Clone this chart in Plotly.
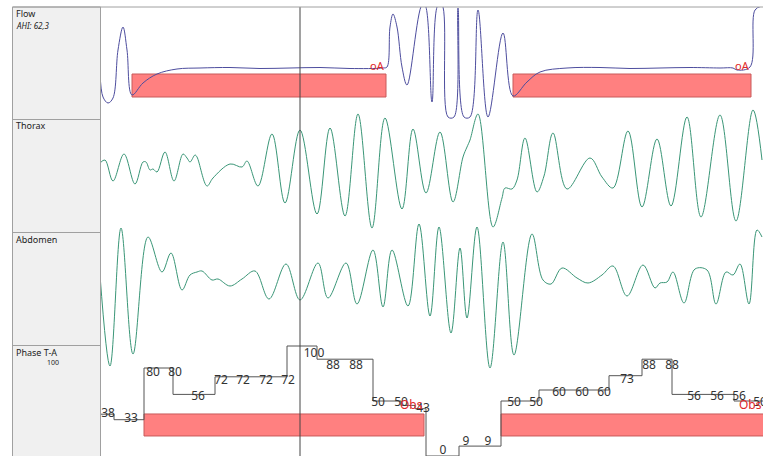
import plotly.graph_objects as go

# ---------------- data (time in seconds) ----------------
flow_t = [0, 0.3, 0.8, 1.3, 1.8, 2.3, 2.7, 3.2, 4.3, 5.7, 7.7, 10.0, 13.0, 16.0, 19.0, 22.0,
          25.0, 28.3, 28.7, 29.0, 29.3, 29.7, 30.2, 30.7, 32.2, 32.5, 33.2, 33.8, 34.2, 34.8,
          35.4, 35.8, 36.4, 37.0, 37.8, 38.8, 40.3, 41.3, 42.7, 44.0, 46.7, 50.0, 53.0, 56.0,
          59.0, 62.0, 63.3, 63.7, 65.0, 65.5, 66.2]
flow_v = [-4, -29, -35, -30, 18, 41, 18, -27, -15, -6, -1, 0, 0.5, -0.5, 0, 0.5,
          -0.5, 0, 1, 41, 54, 41, 1, -17, 63, 63, -34, 63, 63, -49,
          -49, 60, -49, -49, 58, -49, 35, -28, -14, -4, 0, 0.5, -0.5, 0,
          0.5, 0, 0, -2, 1, 58, 62]

thorax_t = [0, 0.5, 1.3, 2.4, 3.5, 4.3, 4.6, 5.0, 5.3, 5.7, 6.5, 7.4, 8.3, 8.7, 9.0, 9.5, 9.7,
            10.7, 11.3, 13.0, 14.2, 14.7, 15.8, 17.2, 18.5, 20.0, 21.7, 23.0, 24.5, 25.8, 27.2,
            28.5, 30.2, 31.3, 32.6, 34.0, 35.3, 36.3, 36.7, 37.0, 37.8, 39.3, 40.2, 40.5, 41.2,
            41.7, 42.5, 43.7, 44.4, 45.3, 46.7, 49.0, 50.2, 51.3, 52.8, 54.2, 55.7, 57.1, 58.7,
            60.1, 62.0, 63.6, 65.3, 66.2]
thorax_v = [9, 12, -9, 18, -12, 10, 10, 2, 3, 0, 20, -9, 18, 14, 10, 17, 15,
            -14, -6, 8, 5, 11, -14, 38, -31, 42, -42, 44, -44, 58, -56,
            54, -37, 43, -21, 40, -30, 15, 25, 32, 58, -55, -26, -16, -17,
            -8, 34, -20, -4, 39, -17, 14, -5, -16, 41, -35, 33, -34, 55,
            -45, 57, -49, 62, 12]

abdomen_t = [0, 1.0, 2.1, 3.3, 4.8, 6.2, 7.1, 8.2, 9.0, 9.7, 10.2, 11.2, 11.8, 13.0, 14.2,
             15.5, 16.9, 18.6, 20.0, 21.8, 22.8, 24.6, 25.7, 27.3, 28.3, 29.2, 30.8, 31.9,
             33.0, 33.9, 35.1, 36.0, 36.7, 37.7, 39.0, 40.3, 41.4, 43.2, 44.3, 45.1, 46.2,
             47.7, 48.8, 50.2, 51.3, 52.7, 54.3, 55.5, 56.0, 56.7, 57.3, 58.4, 59.5, 60.7,
             61.6, 62.6, 63.3, 64.0, 64.9, 65.7, 66.2]
abdomen_v = [5, -86, 52, -74, 43, 8, 27, -10, 5, 8, 9, 0, 1, -6, 1,
             9, -19, 16, -20, 17, -18, 17, -24, 30, -27, 30, -26, 56,
             -36, 53, -53, 32, -38, 53, -88, 38, -75, 46, 0, -4, 12,
             2, -3, 5, 14, -16, 15, -8, -3, -2, 8, -23, 11, 10,
             -24, 8, 5, 16, -24, 50, 43]

phase_t = [0, 1.4, 4.4, 7.3, 11.5, 18.7, 21.7, 27.3, 30.1, 31.5, 32.6, 35.9, 40.1, 43.9,
           50.9, 54.2, 57.2, 63.4, 66.3]
phase_v = [38, 33, 80, 56, 72, 100, 88, 50, 46, 43, 0, 9, 50, 60, 73, 88, 56, 50, 50]

epoch_t = [0.8, 3.1, 5.3, 7.5, 9.8, 12.1, 14.3, 16.6, 18.8, 21.4, 23.3, 25.6, 27.8, 30.1, 32.3,
           34.3, 36.6, 38.8, 41.4, 43.6, 45.9, 48.2, 50.4, 52.7, 54.9, 57.2, 59.4, 61.7, 63.9, 66.0]
epoch_v = [38, 33, 80, 80, 56, 72, 72, 72, 72, 100, 88, 88, 50, 50, 43,
           0, 9, 9, 50, 50, 60, 60, 60, 73, 88, 88, 56, 56, 56, 50]

flow_event_start = [3.2, 41.3]
flow_event_end = [28.6, 65.1]
flow_event_label = ["oA", "oA"]

phase_event_start = [4.4, 40.1]
phase_event_end = [32.4, 66.6]
phase_event_label = ["Obs", "Obs"]

cursor_t = 20.0
channel_names = ["Flow", "Thorax", "Abdomen", "Phase T-A"]

# ---------------- layout helpers ----------------
W, H = 763, 456
TOP = 7
LEFT = 100
XMAX = 66.3


def px(x):
    return x / W


def py(y):
    return (H - y) / H


FONT = "Noto Sans, Open Sans, DejaVu Sans, sans-serif"
WAVE_GREEN = "#3a9677"
FLOW_BLUE = "#4d4d9e"

fig = go.Figure()
fig.add_trace(go.Scatter(x=flow_t, y=flow_v, mode="lines", yaxis="y",
                         line=dict(color=FLOW_BLUE, width=1, shape="spline", smoothing=1.0)))
fig.add_trace(go.Scatter(x=thorax_t, y=thorax_v, mode="lines", yaxis="y2",
                         line=dict(color=WAVE_GREEN, width=1, shape="spline", smoothing=1.0)))
fig.add_trace(go.Scatter(x=abdomen_t, y=abdomen_v, mode="lines", yaxis="y3",
                         line=dict(color=WAVE_GREEN, width=1, shape="spline", smoothing=1.0)))
fig.add_trace(go.Scatter(x=phase_t, y=phase_v, mode="lines", yaxis="y4",
                         line=dict(color="#555555", width=1, shape="hv")))
fig.add_trace(go.Scatter(x=epoch_t, y=epoch_v, mode="text", yaxis="y5",
                         text=[str(v) for v in epoch_v], textposition="middle center",
                         textfont=dict(family=FONT, size=12, color="#333333"),
                         cliponaxis=True))

shapes = []
annotations = []

# event bars
for s, e, lab in zip(flow_event_start, flow_event_end, flow_event_label):
    shapes.append(dict(type="rect", xref="x", yref="y", x0=s, x1=e, y0=-6, y1=-29,
                       fillcolor="#ff8080", line=dict(color="#c85a5a", width=1), layer="below"))
    annotations.append(dict(x=min(e, XMAX), y=-6, xref="x", yref="y", text=lab, showarrow=False,
                            xanchor="right", yanchor="bottom", borderpad=0,
                            font=dict(family=FONT, size=11, color="#e02828")))
for s, e, lab in zip(phase_event_start, phase_event_end, phase_event_label):
    shapes.append(dict(type="rect", xref="x", yref="y4", x0=s, x1=e, y0=18.2, y1=38.2,
                       fillcolor="#ff8080", line=dict(color="#c85a5a", width=1), layer="below"))
    annotations.append(dict(x=min(e, XMAX), y=38.2, xref="x", yref="y4", text=lab, showarrow=False,
                            xanchor="right", yanchor="bottom", borderpad=0,
                            font=dict(family=FONT, size=12, color="#e02828")))

# cursor
shapes.append(dict(type="line", xref="x", yref="paper", x0=cursor_t, x1=cursor_t,
                   y0=0, y1=py(TOP), line=dict(color="#444444", width=1), layer="above"))

# label panel
shapes.append(dict(type="rect", xref="paper", yref="paper", x0=px(12.5), x1=px(100.5),
                   y0=py(H + 2), y1=py(TOP), fillcolor="#f0f0f0",
                   line=dict(color="#a0a0a0", width=1), layer="above"))
for sep in [119.5, 232.5, 345.5]:
    shapes.append(dict(type="line", xref="paper", yref="paper", x0=px(12.5), x1=px(100.5),
                       y0=py(sep), y1=py(sep), line=dict(color="#a0a0a0", width=1), layer="above"))
shapes.append(dict(type="line", xref="paper", yref="paper", x0=px(12.5), x1=1,
                   y0=py(TOP), y1=py(TOP), line=dict(color="#a0a0a0", width=1), layer="above"))

name_y = [14, 126, 239, 352]
for name, yy in zip(channel_names, name_y):
    annotations.append(dict(x=px(14), y=py(yy), xref="paper", yref="paper", text=name,
                            showarrow=False, xanchor="left", yanchor="middle",
                            font=dict(family=FONT, size=9, color="#222222")))
annotations.append(dict(x=px(14), y=py(25), xref="paper", yref="paper", text="<i>AHI: 62,3</i>",
                        showarrow=False, xanchor="left", yanchor="middle",
                        font=dict(family=FONT, size=8, color="#222222")))
annotations.append(dict(x=px(53), y=py(362), xref="paper", yref="paper", text="100",
                        showarrow=False, xanchor="center", yanchor="middle",
                        font=dict(family=FONT, size=7, color="#222222")))

dom = [0, py(TOP)]
hidden = dict(visible=False, fixedrange=True, showgrid=False, zeroline=False)
fig.update_layout(
    width=W, height=H,
    margin=dict(l=0, r=0, t=0, b=0, pad=0),
    paper_bgcolor="white", plot_bgcolor="white",
    showlegend=False,
    xaxis=dict(domain=[px(LEFT), 1], range=[0, XMAX], **hidden),
    yaxis=dict(domain=dom, range=[68 - H, 68 - TOP], **hidden),
    yaxis2=dict(domain=dom, range=[172 - H, 172 - TOP], overlaying="y", **hidden),
    yaxis3=dict(domain=dom, range=[280 - H, 280 - TOP], overlaying="y", **hidden),
    yaxis4=dict(domain=dom, range=[0, (H - TOP) / 1.1], overlaying="y", **hidden),
    yaxis5=dict(domain=dom, range=[(451 - H) / 0.97, (451 - TOP) / 0.97], overlaying="y", **hidden),
    shapes=shapes,
    annotations=annotations,
)

fig.write_html("out.html", config={"displayModeBar": False},
               post_script="document.body.style.margin='0';document.body.style.overflow='hidden';")
